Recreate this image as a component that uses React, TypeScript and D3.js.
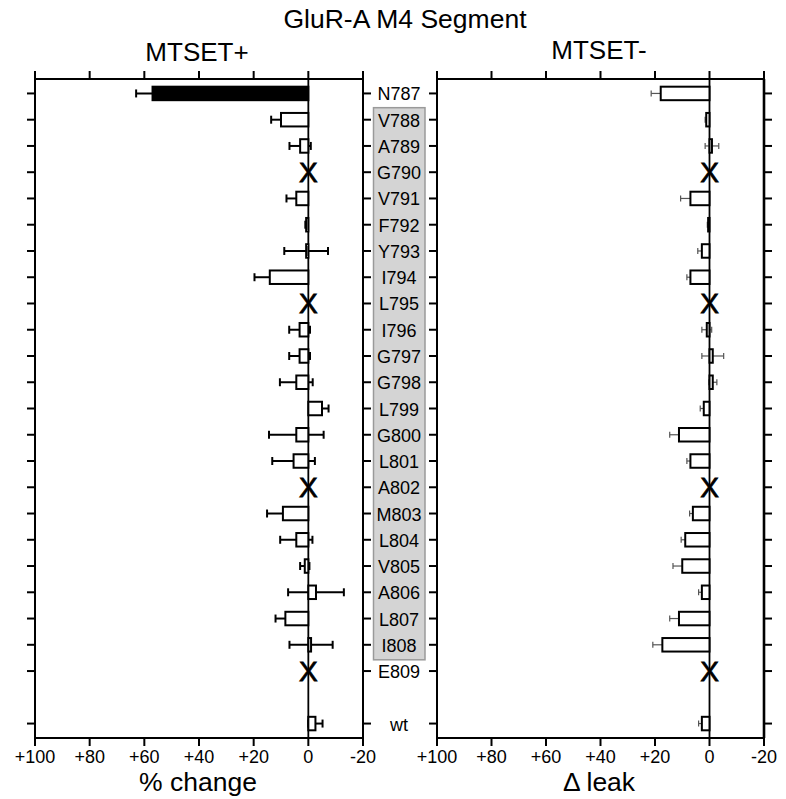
import React from "react";
import * as d3 from "d3";

const residues = ["N787","V788","A789","G790","V791","F792","Y793","I794","L795","I796","G797","G798","L799","G800","L801","A802","M803","L804","V805","A806","L807","I808","E809","wt"];
const rowIndex = [0,1,2,3,4,5,6,7,8,9,10,11,12,13,14,15,16,17,18,19,20,21,22,24];
const boxedResidues = ["V788","I808"];

// MTSET+ (% change); null = no data (X)
const plusValues = [57,10,3,null,4.4,0.8,0.8,14.1,null,3.2,3.2,4.4,-5,4.4,5.4,null,9.3,4.4,1.3,-2.8,8.4,-1,null,-2.6];
const plusErrors = [6,3.6,3.9,null,3.6,0.3,8,5.6,null,3.8,3.8,6,2.4,10,7.8,null,5.8,5.9,1.7,10.2,3.6,7.9,null,2.6];
const plusFilled = ["N787"];

// MTSET- (Δ leak)
const minusValues = [17.9,1.2,-0.9,null,7,0.5,2.8,7,null,1,-1.2,-1.2,2.1,11.2,7,null,6.1,8.9,10,2.8,11.2,17.3,null,2.8];
const minusErrors = [3.5,0.4,2.5,null,3.6,0.3,1.5,1.3,null,1.8,4,1.5,1.3,3.4,1.3,null,1.2,1.5,3.4,1.2,3.4,3.5,null,1.2];

const xTicks = [100,80,60,40,20,0,-20];
const xTickLabels = ["+100","+80","+60","+40","+20","0","-20"];

const FONT = "Arial, 'Liberation Sans', Helvetica, sans-serif";

const yScale = d3.scaleLinear().domain([-0.55, 24.55]).range([79, 738]);

function Panel({ x0, x1, values, errors, filled, errColor, errWidth, capH, rightW }) {
  const x = d3.scaleLinear().domain([100, -20]).range([x0, x1]);
  const top = yScale.range()[0];
  const bottom = yScale.range()[1];
  const barH = 13.5;
  return (
    <g>
      {rowIndex.map((r, i) => (
        <g key={"t" + i}>
          <line x1={x0 - 8} x2={x0} y1={yScale(r)} y2={yScale(r)} stroke="#000" strokeWidth={2} />
          <line x1={x1} x2={x1 + 8} y1={yScale(r)} y2={yScale(r)} stroke="#000" strokeWidth={2} />
        </g>
      ))}
      {xTicks.map((t, i) => (
        <g key={"xt" + i}>
          <line x1={x(t)} x2={x(t)} y1={top - 8} y2={top} stroke="#000" strokeWidth={2} />
          <line x1={x(t)} x2={x(t)} y1={bottom} y2={bottom + 8} stroke="#000" strokeWidth={2} />
          <text x={x(t)} y={763} textAnchor="middle" fontSize={18} fontFamily={FONT}>{xTickLabels[i]}</text>
        </g>
      ))}
      <line x1={x(0)} x2={x(0)} y1={top} y2={bottom} stroke="#000" strokeWidth={1.8} />
      {residues.map((res, i) => {
        const v = values[i];
        const e = errors[i];
        const cy = yScale(rowIndex[i]);
        if (v === null) {
          return (
            <text key={res} x={x(0)} y={cy + 10} textAnchor="middle" fontSize={28} fontFamily={FONT}
              stroke="#000" strokeWidth={0.8}>X</text>
          );
        }
        const xa = x(v - e);
        const xb = x(v + e);
        const isFilled = filled && filled.includes(res);
        return (
          <g key={res}>
            <line x1={xa} x2={xb} y1={cy} y2={cy} stroke={errColor} strokeWidth={errWidth} />
            <line x1={xa} x2={xa} y1={cy - capH / 2} y2={cy + capH / 2} stroke={errColor} strokeWidth={errWidth} />
            <line x1={xb} x2={xb} y1={cy - capH / 2} y2={cy + capH / 2} stroke={errColor} strokeWidth={errWidth} />
            <rect x={Math.min(x(v), x(0))} y={cy - barH / 2} width={Math.abs(x(v) - x(0))} height={barH}
              fill={isFilled ? "#000" : "#fff"} stroke="#000" strokeWidth={2} />
          </g>
        );
      })}
      <rect x={x0} y={top} width={x1 - x0} height={bottom - top} fill="none" stroke="#000" strokeWidth={2} />
      <line x1={x1} x2={x1} y1={top} y2={bottom} stroke="#000" strokeWidth={rightW} />
    </g>
  );
}

export default function App() {
  const boxTop = yScale(rowIndex[residues.indexOf(boxedResidues[0])]) - 12;
  const boxBottom = yScale(rowIndex[residues.indexOf(boxedResidues[1])]) + 15;
  return (
    <svg width={786} height={799} style={{ position: "absolute", left: 0, top: 0, background: "#fff" }}>
      <rect x={0} y={0} width={786} height={799} fill="#fff" />
      <text x={405} y={28} textAnchor="middle" fontSize={26.5} fontFamily={FONT}>GluR-A M4 Segment</text>
      <text x={197} y={61} textAnchor="middle" fontSize={26} fontFamily={FONT}>MTSET+</text>
      <text x={599} y={59} textAnchor="middle" fontSize={26} fontFamily={FONT}>MTSET-</text>

      <rect x={373.5} y={boxTop} width={51.5} height={boxBottom - boxTop} fill="#d4d4d4" stroke="#9a9a9a" strokeWidth={1.5} />
      {residues.map((res, i) => (
        <text key={res} x={399} y={yScale(rowIndex[i]) + 7} textAnchor="middle" fontSize={18} fontFamily={FONT}>{res}</text>
      ))}

      <Panel x0={35} x1={363} values={plusValues} errors={plusErrors} filled={plusFilled} errColor="#000" errWidth={2} capH={8} rightW={2} />
      <Panel x0={437} x1={764} values={minusValues} errors={minusErrors} filled={[]} errColor="#555" errWidth={1.2} capH={6} rightW={2.6} />

      <text x={198} y={791} textAnchor="middle" fontSize={26.5} fontFamily={FONT}>% change</text>
      <text x={599} y={791} textAnchor="middle" fontSize={26.5} fontFamily={FONT}>Δ leak</text>
    </svg>
  );
}
